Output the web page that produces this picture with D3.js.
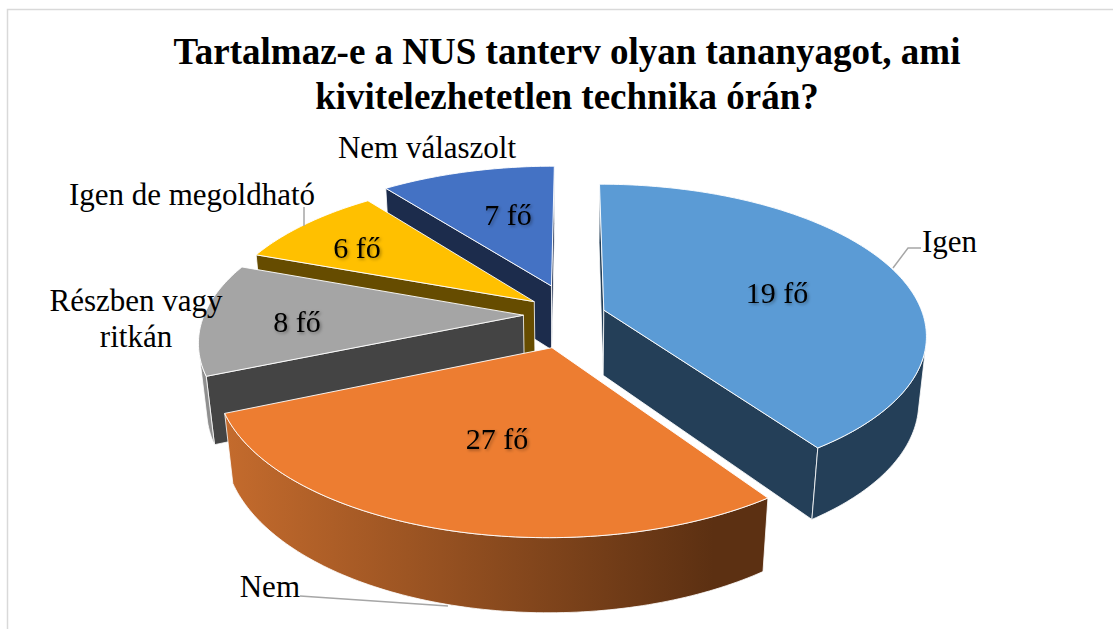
<!DOCTYPE html>
<html><head><meta charset="utf-8">
<script src="https://cdn.jsdelivr.net/npm/d3@7"></script>
<style>body{margin:0;background:#fff}svg{display:block}</style>
</head><body>
<svg id="c" width="1113" height="629"></svg>
<script>
// Data
const categories = ["Igen","Nem","Részben vagy ritkán","Igen de megoldható","Nem válaszolt"];
// slice sizes as drawn (angles measured in the reference)
const sliceValues = [27,19,8,6,7];
// data-label texts as printed in the reference
const valueLabels = ["19 fő","27 fő","8 fő","6 fő","7 fő"];
const titleLines = ["Tartalmaz-e a NUS tanterv olyan tananyagot, ami","kivitelezhetetlen technika órán?"];

// Styles
const topColors = ["#5B9BD5","#ED7D31","#A5A5A5","#FFC000","#4472C4"];
const sideColors = ["#243F58","#7A3E16","#444444","#664C00","#1C2C4C"];
// 3D view (perspective camera fitted to the reference)
const view = {cx:572.6, cy:380.1, focal:1725.3, dist:5.522, tilt:0.518, height:0.236,
              explode:[0.103,0.225,0.154,0.151,0.212]};

const arcs = d3.pie().sort(null).value(d=>d)(sliceValues);
const A0 = arcs.map(a=>a.startAngle), A1 = arcs.map(a=>a.endAngle);
const sinT = Math.sin(view.tilt), cosT = Math.cos(view.tilt);
function proj(x,y,z){const d=view.dist-y*sinT-z*cosT;return [view.cx+view.focal*x/d, view.cy+view.focal*(z*sinT-y*cosT)/d];}
function ptS(i,a,r,top){const m=(A0[i]+A1[i])/2,e=view.explode[i];
  const x=e*Math.sin(m)+r*Math.sin(a), z=-e*Math.cos(m)-r*Math.cos(a);
  return proj(x, top?view.height:0, z);}

const svg=d3.select("#c");
const cam=[0,view.dist*sinT,view.dist*cosT];
const H=view.height;
const defs=svg.append("defs");
const flt=defs.append("filter").attr("id","sh").attr("x","-20%").attr("y","-20%").attr("width","140%").attr("height","140%");
flt.append("feDropShadow").attr("dx",1.5).attr("dy",1.5).attr("stdDeviation",1.5).attr("flood-color","#000").attr("flood-opacity",0.35);

svg.append("path").attr("d","M7.5,640V9.5H1120").attr("fill","none").attr("stroke","#D9D9D9").attr("stroke-width",1.5);

const line=d3.line();
const order=d3.range(5).map(i=>{const m=(A0[i]+A1[i])/2,e=view.explode[i];
  const z=-e*Math.cos(m)-0.5*Math.cos(m);return {i,d:view.dist-H/2*sinT-z*cosT};}).sort((a,b)=>b.d-a.d);
const g=svg.append("g");
order.forEach(({i})=>{
  const a0=A0[i],a1=A1[i],m=(a0+a1)/2,e=view.explode[i];
  const ex=e*Math.sin(m),ez=-e*Math.cos(m);
  const n=Math.max(8,Math.ceil((a1-a0)/(Math.PI/180)));
  const angs=d3.range(n+1).map(k=>a0+(a1-a0)*k/n);
  const vis=a=>{const px=ex+Math.sin(a),pz=ez-Math.cos(a);return Math.sin(a)*(cam[0]-px)+(-Math.cos(a))*(cam[2]-pz)>0;};
  const faces=[];
  const apT=ptS(i,0,0,1),apB=ptS(i,0,0,0);
  const dotR=(nx,nz)=>nx*(cam[0]-ex)+nz*(cam[2]-ez)>0;
  if(dotR(-Math.cos(a0),-Math.sin(a0)))faces.push({pts:[apT,apB,ptS(i,a0,1,0),ptS(i,a0,1,1)],fill:sideColors[i]});
  if(dotR(Math.cos(a1),Math.sin(a1)))faces.push({pts:[apT,ptS(i,a1,1,1),ptS(i,a1,1,0),apB],fill:sideColors[i]});
  let run=[];const runs=[];
  angs.forEach(a=>{if(vis(a))run.push(a);else{if(run.length>1)runs.push(run);run=[];}});
  if(run.length>1)runs.push(run);
  runs.forEach(r=>{const pts=r.map(a=>ptS(i,a,1,1)).concat(r.slice().reverse().map(a=>ptS(i,a,1,0)));faces.push({pts,fill:sideColors[i],outer:true});});
  faces.forEach(f=>{
    let fill=f.fill;
    if(f.outer&&i===1){const xs=f.pts.map(q=>q[0]);const x1=d3.min(xs),x2=d3.max(xs);
      const gr=defs.append("linearGradient").attr("id","gn").attr("gradientUnits","userSpaceOnUse").attr("x1",x1).attr("x2",x1+(x2-x1)*0.9).attr("y1",0).attr("y2",0);
      gr.append("stop").attr("offset",0).attr("stop-color","#C46B2D");gr.append("stop").attr("offset",1).attr("stop-color","#5C3012");fill="url(#gn)";}
    if(f.outer&&i===2)fill="#8F8F8F";
    g.append("path").attr("d",line(f.pts)+"Z").attr("fill",fill).attr("stroke","rgba(255,255,255,0.8)").attr("stroke-width",1).attr("stroke-linejoin","round");
  });
  const top=[apT].concat(angs.map(a=>ptS(i,a,1,1)));
  g.append("path").attr("d",line(top)+"Z").attr("fill",topColors[i]).attr("stroke","rgba(255,255,255,0.9)").attr("stroke-width",1).attr("stroke-linejoin","round");
});

const serif="'Liberation Serif','Times New Roman',serif";
svg.append("g").selectAll("text").data(titleLines).join("text").attr("x",567).attr("y",(d,i)=>64+i*45)
  .attr("text-anchor","middle").attr("font-family",serif).attr("font-weight","bold").attr("font-size",37).text(d=>d);

const vpos=[[777,303],[497,449],[297,332],[357,258],[508,225]];
svg.append("g").selectAll("text").data(valueLabels).join("text").attr("x",(d,i)=>vpos[i][0]).attr("y",(d,i)=>vpos[i][1])
  .attr("text-anchor","middle").attr("font-family",serif).attr("font-size",30).attr("filter","url(#sh)").text(d=>d);

const catLayout=[{x:922,y:252,a:"start",lines:["Igen"]},{x:300,y:597,a:"end",lines:["Nem"]},
  {x:136,y:311,a:"middle",lines:["Részben vagy","ritkán"]},{x:192,y:205,a:"middle",lines:["Igen de megoldható"]},
  {x:427,y:158,a:"middle",lines:["Nem válaszolt"]}];
catLayout.forEach((c,k)=>{const t=svg.append("text").attr("class","cat").attr("data-cat",categories[k]).attr("font-family",serif).attr("font-size",31).attr("text-anchor",c.a);
  c.lines.forEach((l,j)=>t.append("tspan").attr("x",c.x).attr("y",c.y+j*36).text(l));});
const leaders=[[[921,248],[908,248],[893,268]],[[300,596],[448,606]],[[304,207],[304,226]]];
svg.append("g").selectAll("path").data(leaders).join("path").attr("d",d=>line(d)).attr("fill","none").attr("stroke","#A6A6A6").attr("stroke-width",1.5);
</script></body></html>
